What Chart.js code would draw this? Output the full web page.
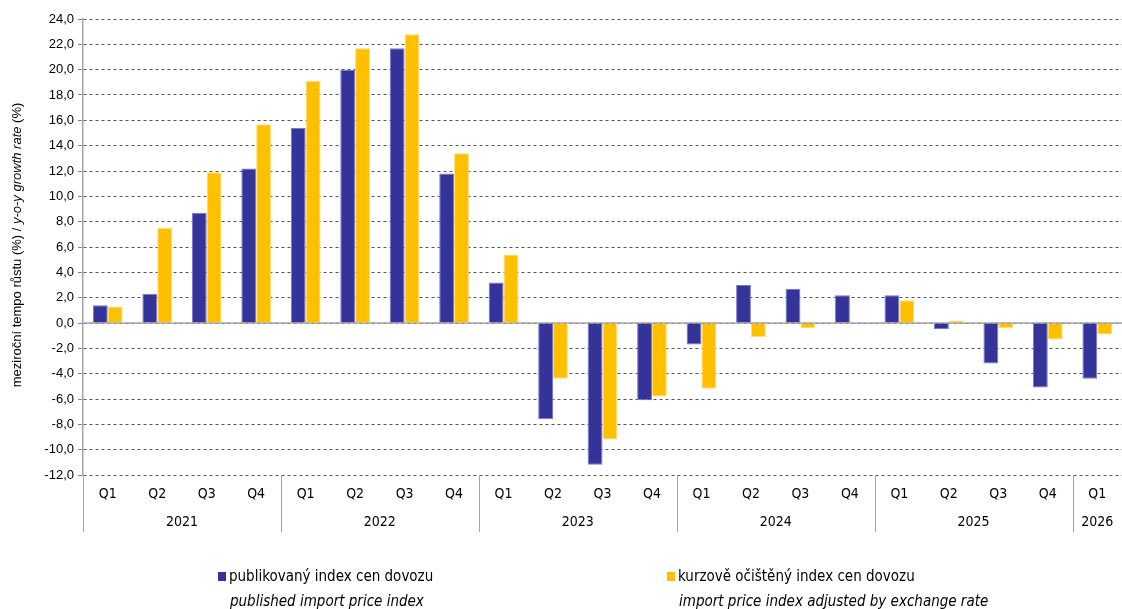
<!DOCTYPE html>
<html>
<head>
<meta charset="utf-8">
<script src="https://cdn.jsdelivr.net/npm/chart.js@4/dist/chart.umd.min.js"></script>
<style>
  body { margin: 0; background: #fff; }
  #obal { width: 1122px; height: 609px; position: relative; }
</style>
</head>
<body>
<div id="obal"><canvas id="graf"></canvas></div>
<script>
// data
const kvartaly = ["Q1","Q2","Q3","Q4","Q1","Q2","Q3","Q4","Q1","Q2","Q3","Q4","Q1","Q2","Q3","Q4","Q1","Q2","Q3","Q4","Q1"];
const roky = ["2021","2022","2023","2024","2025","2026"];
const kvartalyVRoce = [4, 4, 4, 4, 4, 1];
const publikovany = [1.4, 2.3, 8.7, 12.2, 15.4, 20.0, 21.7, 11.8, 3.2, -7.6, -11.2, -6.1, -1.7, 3.0, 2.7, 2.2, 2.2, -0.5, -3.2, -5.1, -4.4];
const ocisteny = [1.3, 7.5, 11.9, 15.7, 19.1, 21.7, 22.8, 13.4, 5.4, -4.4, -9.2, -5.8, -5.2, -1.1, -0.4, 0.0, 1.8, 0.2, -0.4, -1.3, -0.9];
const nazvyCz = ["publikovaný index cen dovozu", "kurzově očištěný index cen dovozu"];
const nazvyEn = ["published import price index", "import price index adjusted by exchange rate"];

const modra = "#333399";
const zluta = "#FFC000";
const uzkePismo = "'Liberation Sans Narrow', 'DejaVu Sans Condensed', Arial, sans-serif";
const pismo = "'Liberation Sans', Arial, sans-serif";

const doplnky = {
  id: "doplnky",
  beforeDatasetsDraw(chart) {
    const {ctx, chartArea, scales} = chart;
    // nulova osa
    const y0 = scales.y.getPixelForValue(0);
    ctx.save();
    ctx.strokeStyle = "#a6a6a6";
    ctx.lineWidth = 1.5;
    ctx.beginPath();
    ctx.moveTo(chartArea.left, y0);
    ctx.lineTo(chartArea.right, y0);
    ctx.stroke();
    ctx.restore();
  },
  afterDraw(chart) {
    const {ctx, chartArea, scales} = chart;
    const x = scales.x;
    const krok = x.getPixelForValue(1) - x.getPixelForValue(0);
    ctx.save();

    // oddelovace roku a popisky roku
    ctx.strokeStyle = "#a6a6a6";
    ctx.lineWidth = 1;
    ctx.fillStyle = "#000";
    ctx.font = "14px " + uzkePismo;
    ctx.textAlign = "center";
    ctx.textBaseline = "middle";
    let idx = 0;
    const hranice = [chartArea.left];
    roky.forEach((rok, i) => {
      const zac = x.getPixelForValue(idx) - krok / 2;
      idx += kvartalyVRoce[i];
      const kon = x.getPixelForValue(idx - 1) + krok / 2;
      hranice.push(Math.round(kon));
      ctx.fillText(rok, (zac + kon) / 2, 522);
    });
    hranice.forEach((hx, i) => {
      if (i === hranice.length - 1) return;
      ctx.beginPath();
      ctx.moveTo(hx + 0.5, chartArea.bottom);
      ctx.lineTo(hx + 0.5, 532);
      ctx.stroke();
    });

    // popis osy y
    ctx.save();
    ctx.translate(17, 245);
    ctx.rotate(-Math.PI / 2);
    const casti = [
      ["meziroční tempo růstu (%) / ", "13px " + pismo],
      ["y-o-y growth rate", "italic 13px " + pismo],
      [" (%)", "13px " + pismo]
    ];
    let sirka = 0;
    casti.forEach(c => { ctx.font = c[1]; sirka += ctx.measureText(c[0]).width; });
    let px = -sirka / 2;
    ctx.textAlign = "left";
    casti.forEach(c => {
      ctx.font = c[1];
      ctx.fillText(c[0], px, 0);
      px += ctx.measureText(c[0]).width;
    });
    ctx.restore();

    // legenda
    const barvy = [modra, zluta];
    const polohy = [218, 667];
    ctx.textAlign = "left";
    polohy.forEach((lx, i) => {
      ctx.fillStyle = barvy[i];
      ctx.fillRect(lx, 572, 8, 9);
      ctx.fillStyle = "#000";
      ctx.font = "15px " + uzkePismo;
      ctx.fillText(nazvyCz[i], lx + 11, 577);
      ctx.font = "italic 15px " + uzkePismo;
      ctx.fillText(nazvyEn[i], lx + 12, 602);
    });
    ctx.restore();
  }
};

new Chart(document.getElementById("graf"), {
  type: "bar",
  data: {
    labels: kvartaly,
    datasets: [
      {
        label: nazvyCz[0],
        data: publikovany,
        backgroundColor: modra,
        borderColor: "#7777cc",
        borderWidth: 1
      },
      {
        label: nazvyCz[1],
        data: ocisteny,
        backgroundColor: zluta,
        borderColor: "#ffdd77",
        borderWidth: 1
      }
    ]
  },
  options: {
    responsive: true,
    maintainAspectRatio: false,
    animation: false,
    layout: { padding: { top: 19, right: 0, bottom: 104, left: 0 } },
    datasets: { bar: { barPercentage: 1, categoryPercentage: 0.6 } },
    plugins: { legend: { display: false }, tooltip: { enabled: false } },
    scales: {
      x: {
        grid: { display: false, drawTicks: false },
        border: { display: false },
        ticks: { color: "#000", font: { family: uzkePismo, size: 14 }, padding: 11, maxRotation: 0, autoSkip: false },
        afterFit(scale) { scale.height = 30; }
      },
      y: {
        min: -12,
        max: 24,
        grid: { color: "#555", lineWidth: 1, tickLength: 5, tickColor: "#888" },
        border: { display: true, color: "#a6a6a6", width: 1.5, dash: [3, 3] },
        ticks: {
          stepSize: 2,
          color: "#000",
          padding: 4,
          font: { family: pismo, size: 13 },
          callback: (v) => v.toFixed(1).replace(".", ",")
        },
        afterFit(scale) { scale.width = 83; }
      }
    }
  },
  plugins: [doplnky]
});
</script>
</body>
</html>
